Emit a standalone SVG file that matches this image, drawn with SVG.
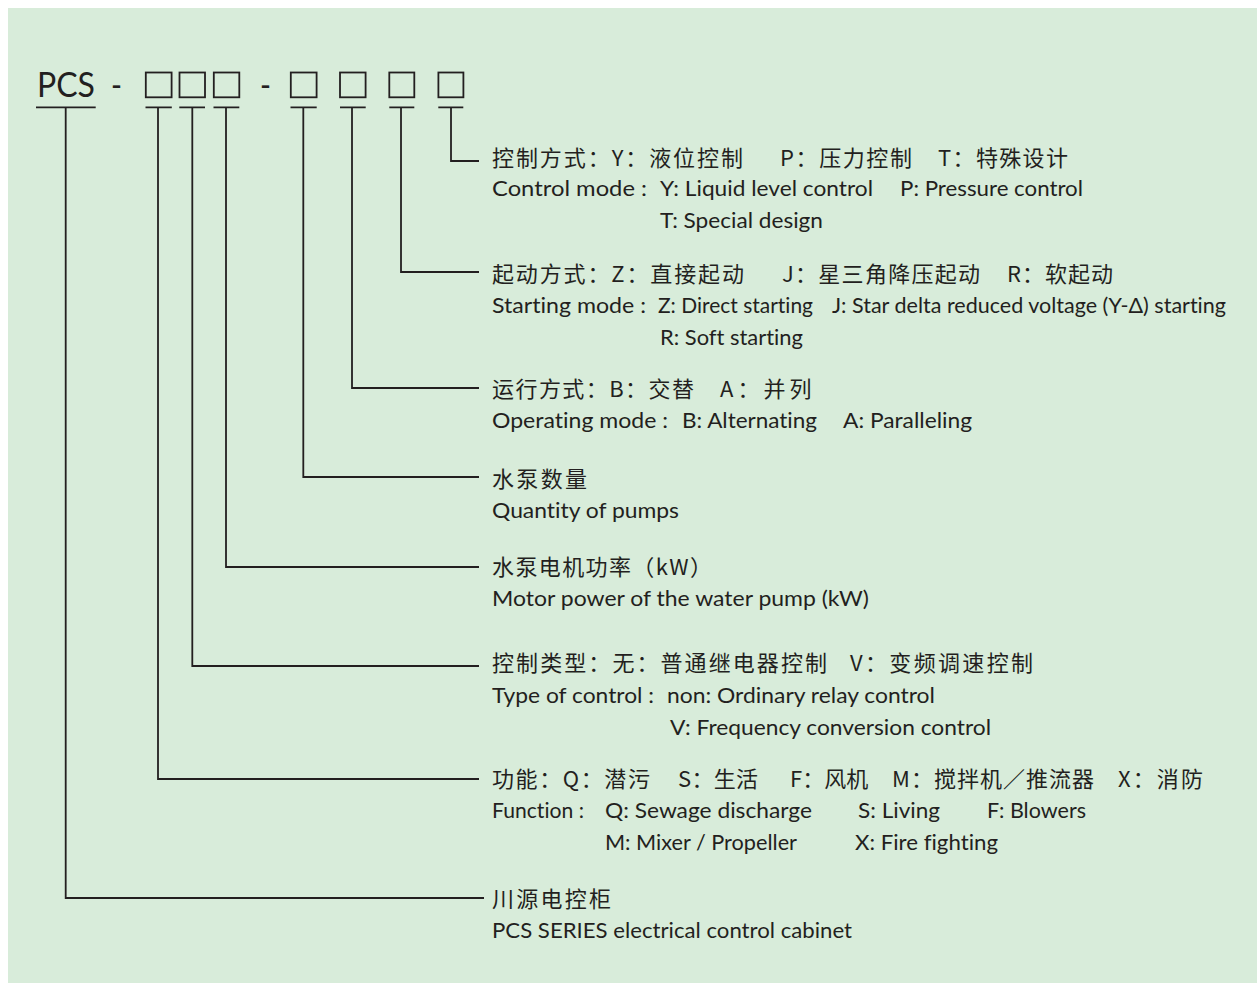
<svg xmlns="http://www.w3.org/2000/svg" width="1257" height="991" viewBox="0 0 1257 991">
<style>
.bg{fill:#d8ecda}
.ln{fill:none;stroke:#231f20;stroke-width:1.8}
.bx{fill:none;stroke:#231f20;stroke-width:1.8}
.cn{font-family:"Noto Sans CJK SC","Noto Sans",sans-serif;font-size:22px;fill:#231f20}
.en{font-family:Lato,"Open Sans","Liberation Sans",sans-serif;font-size:22px;fill:#231f20;font-variant-ligatures:none}
.hd{font-family:Lato,"Open Sans","Liberation Sans",sans-serif;font-size:35px;fill:#231f20}
</style>
<rect class="bg" x="8" y="8" width="1249" height="975"/>
<g id="header">
<text class="hd" x="37" y="97" textLength="58" lengthAdjust="spacingAndGlyphs">PCS</text>
<text class="hd" x="111" y="97" textLength="11" lengthAdjust="spacingAndGlyphs">-</text>
<text class="hd" x="260" y="97" textLength="11" lengthAdjust="spacingAndGlyphs">-</text>
<rect class="bx" x="145.8" y="72.5" width="25.8" height="24.8"/>
<rect class="bx" x="179.5" y="72.5" width="25.5" height="24.8"/>
<rect class="bx" x="213.8" y="72.5" width="25.5" height="24.8"/>
<rect class="bx" x="290.8" y="72.5" width="25.8" height="24.8"/>
<rect class="bx" x="340" y="72.5" width="25.6" height="24.8"/>
<rect class="bx" x="389.3" y="72.5" width="25" height="24.8"/>
<rect class="bx" x="438.4" y="72.5" width="25" height="24.8"/>
</g>
<g id="connectors">
<path class="ln" d="M36 107.3H95.7M145.5 107.3H171.8M179.3 107.3H205M213.5 107.3H239.3M290.5 107.3H316.7M340 107.3H365.7M389.3 107.3H414.3M438.3 107.3H463.3"/>
<path class="ln" d="M65.7 107.3V898H484"/>
<path class="ln" d="M158 107.3V779H479"/>
<path class="ln" d="M192.3 107.3V666H479"/>
<path class="ln" d="M226 107.3V567H479"/>
<path class="ln" d="M303.3 107.3V477H479"/>
<path class="ln" d="M352 107.3V388H479"/>
<path class="ln" d="M401 107.3V272H479"/>
<path class="ln" d="M451 107.3V161H479"/>
</g>
<g id="control-mode">
<text class="cn" x="492" y="166" textLength="251" lengthAdjust="spacing">控制方式：Y：液位控制</text>
<text class="cn" x="780" y="166" textLength="132" lengthAdjust="spacing">P：压力控制</text>
<text class="cn" x="938" y="166" textLength="130" lengthAdjust="spacing">T：特殊设计</text>
<text class="en" x="492" y="196" textLength="155" lengthAdjust="spacingAndGlyphs">Control mode :</text>
<text class="en" x="660" y="196" textLength="213" lengthAdjust="spacingAndGlyphs">Y: Liquid level control</text>
<text class="en" x="900" y="196" textLength="183" lengthAdjust="spacingAndGlyphs">P: Pressure control</text>
<text class="en" x="660" y="228" textLength="163" lengthAdjust="spacingAndGlyphs">T: Special design</text>
</g>
<g id="starting-mode">
<text class="cn" x="492" y="282" textLength="252" lengthAdjust="spacing">起动方式：Z：直接起动</text>
<text class="cn" x="782" y="282" textLength="198" lengthAdjust="spacing">J：星三角降压起动</text>
<text class="cn" x="1007" y="282" textLength="106" lengthAdjust="spacing">R：软起动</text>
<text class="en" x="492" y="313" textLength="154" lengthAdjust="spacingAndGlyphs">Starting mode :</text>
<text class="en" x="658" y="313" textLength="155" lengthAdjust="spacingAndGlyphs">Z: Direct starting</text>
<text class="en" x="832" y="313" textLength="394" lengthAdjust="spacingAndGlyphs">J: Star delta reduced voltage (Y-Δ) starting</text>
<text class="en" x="660" y="345" textLength="143" lengthAdjust="spacingAndGlyphs">R: Soft starting</text>
</g>
<g id="operating-mode">
<text class="cn" x="492" y="397" textLength="202" lengthAdjust="spacing">运行方式：B：交替</text>
<text class="cn" x="720" y="397" letter-spacing="4">A：并列</text>
<text class="en" x="492" y="428" textLength="176" lengthAdjust="spacingAndGlyphs">Operating mode :</text>
<text class="en" x="682" y="428" textLength="135" lengthAdjust="spacingAndGlyphs">B: Alternating</text>
<text class="en" x="843" y="428" textLength="129" lengthAdjust="spacingAndGlyphs">A: Paralleling</text>
</g>
<g id="pump-quantity">
<text class="cn" x="492" y="487" textLength="95" lengthAdjust="spacing">水泵数量</text>
<text class="en" x="492" y="518" textLength="187" lengthAdjust="spacingAndGlyphs">Quantity of pumps</text>
</g>
<g id="motor-power">
<text class="cn" x="492" y="575" textLength="220" lengthAdjust="spacing">水泵电机功率（kW）</text>
<text class="en" x="492" y="606" textLength="377" lengthAdjust="spacingAndGlyphs">Motor power of the water pump (kW)</text>
</g>
<g id="control-type">
<text class="cn" x="492" y="671" textLength="335" lengthAdjust="spacing">控制类型：无：普通继电器控制</text>
<text class="cn" x="850" y="671" textLength="183" lengthAdjust="spacing">V：变频调速控制</text>
<text class="en" x="492" y="703" textLength="162" lengthAdjust="spacingAndGlyphs">Type of control :</text>
<text class="en" x="667" y="703" textLength="268" lengthAdjust="spacingAndGlyphs">non: Ordinary relay control</text>
<text class="en" x="670" y="735" textLength="321" lengthAdjust="spacingAndGlyphs">V: Frequency conversion control</text>
</g>
<g id="function">
<text class="cn" x="492" y="787" textLength="158" lengthAdjust="spacing">功能：Q：潜污</text>
<text class="cn" x="678" y="787" textLength="80" lengthAdjust="spacing">S：生活</text>
<text class="cn" x="790" y="787">F：风机</text>
<text class="cn" x="892" y="787" textLength="202" lengthAdjust="spacing">M：搅拌机／推流器</text>
<text class="cn" x="1118" y="787" textLength="85" lengthAdjust="spacing">X：消防</text>
<text class="en" x="492" y="818" textLength="92" lengthAdjust="spacingAndGlyphs">Function :</text>
<text class="en" x="605" y="818" textLength="207" lengthAdjust="spacingAndGlyphs">Q: Sewage discharge</text>
<text class="en" x="858" y="818" textLength="82" lengthAdjust="spacingAndGlyphs">S: Living</text>
<text class="en" x="987" y="818" textLength="99" lengthAdjust="spacingAndGlyphs">F: Blowers</text>
<text class="en" x="605" y="850" textLength="192" lengthAdjust="spacingAndGlyphs">M: Mixer / Propeller</text>
<text class="en" x="855" y="850" textLength="143" lengthAdjust="spacingAndGlyphs">X: Fire fighting</text>
</g>
<g id="cabinet">
<text class="cn" x="492" y="907" textLength="119" lengthAdjust="spacing">川源电控柜</text>
<text class="en" x="492" y="938" textLength="360" lengthAdjust="spacingAndGlyphs">PCS SERIES electrical control cabinet</text>
</g>
</svg>
